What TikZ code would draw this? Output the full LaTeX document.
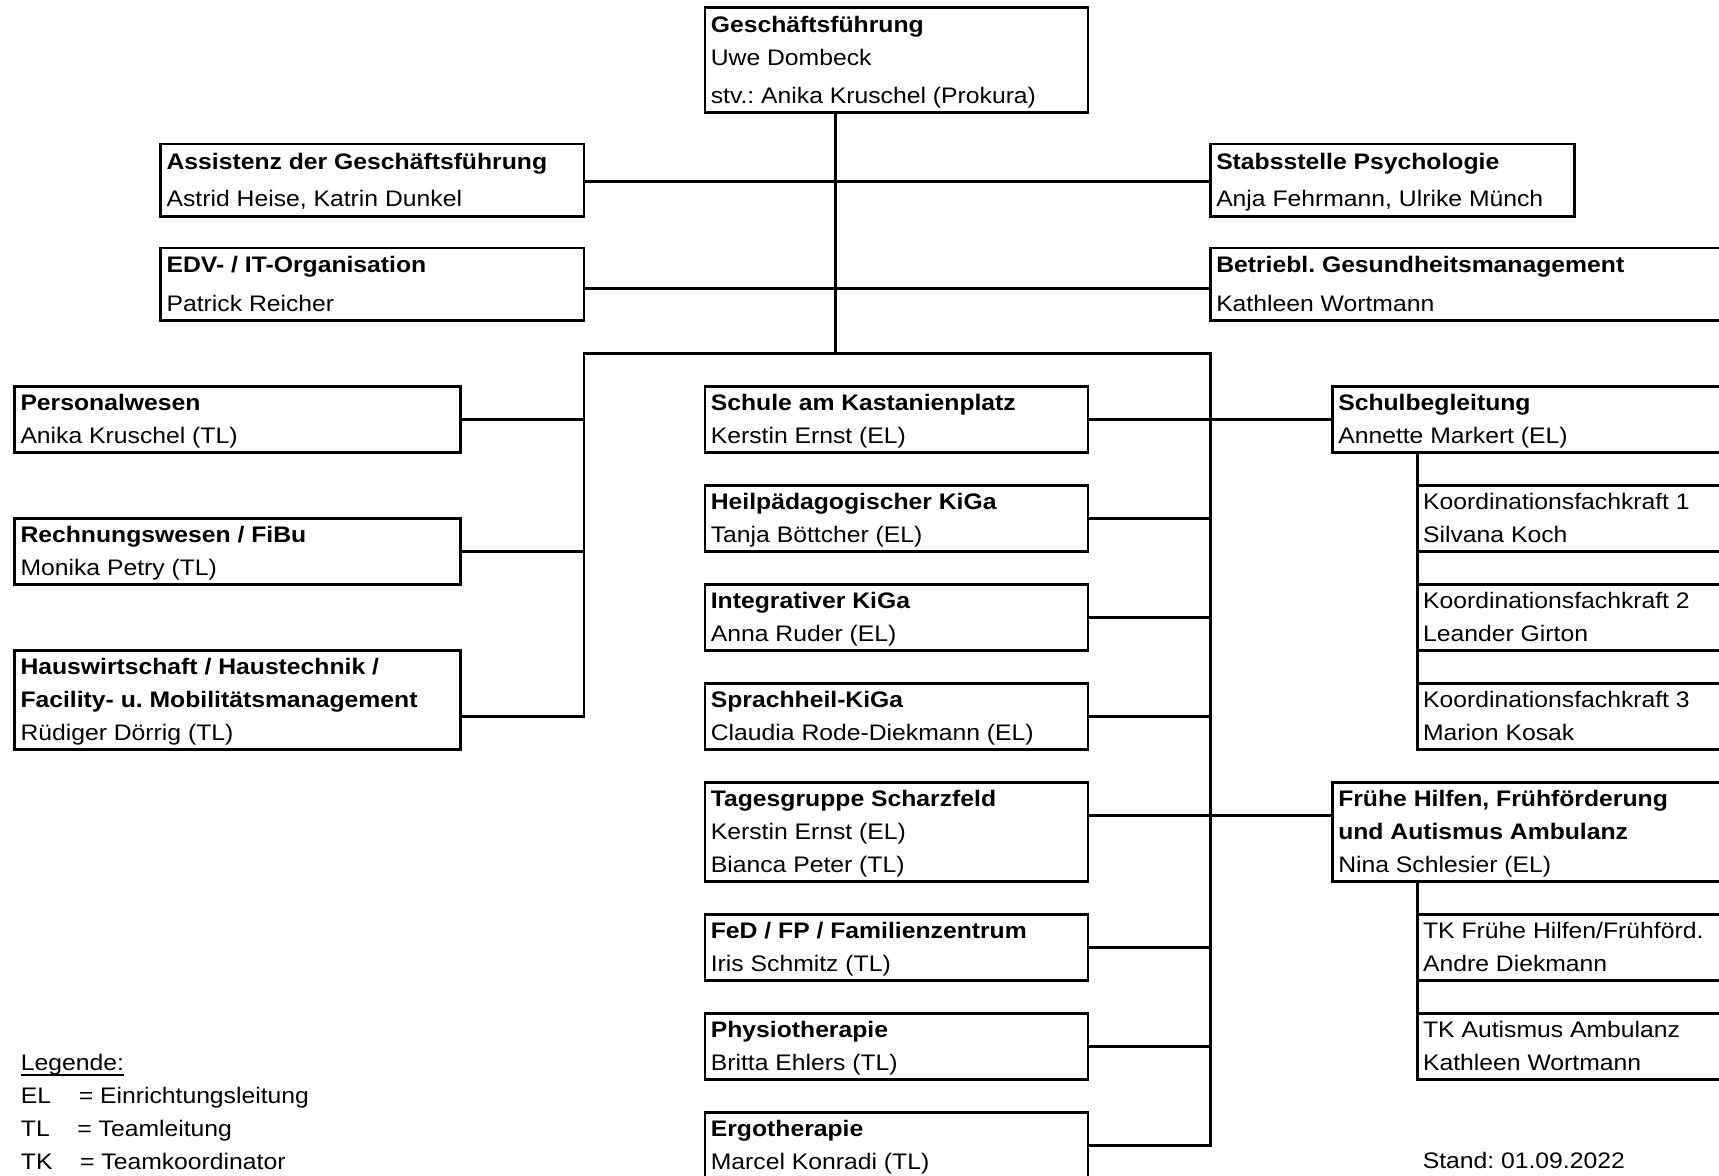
\documentclass[tikz,border=0pt]{standalone}
\usepackage{fontspec}
\setmainfont{Liberation Sans}[FakeStretch=1.10]
\usetikzlibrary{calc}
\newlength\U \setlength\U{0.55pt}
\newlength\tw
% one text line with a fixed strut: height, depth, text
\newcommand\Ln[3]{\hbox to \tw{\vrule width 0pt height #1\U depth #2\U\relax #3\hfil}}
\newcommand\rw[1]{\Ln{22.1}{8}{#1}}
\newcommand\rb[1]{\Ln{22.1}{8}{\bfseries #1}}
\newcommand\obox[6]{\setlength\tw{#4\U}\addtolength\tw{-10.8\U}%
  \node[obox,minimum height={#5\U}] (#1) at (#2,#3) {\vbox{\offinterlineskip #6}};}
\begin{document}
\begin{tikzpicture}[x=0.55pt,y=-0.55pt,
  obox/.style={draw,line width=2.4\U,rectangle,anchor=north west,inner xsep=5.4\U,inner ysep=0pt,
    outer sep=0pt,font=\fontsize{11.275pt}{13pt}\selectfont\frenchspacing},
  conn/.style={line width=2.4\U,line cap=rect},
  txt/.style={anchor=base west,inner sep=0pt,font=\fontsize{11.275pt}{13pt}\selectfont\frenchspacing}]
\useasboundingbox (0,0) rectangle (1568,1072);
\fill[white] (0,0) rectangle (1568,1072);
\clip (0,0) rectangle (1568,1072);

% top level
\obox{gf}{643}{6.7}{349.5}{95.8}{\Ln{22.5}{8}{\bfseries Geschäftsführung}\Ln{22.1}{8}{Uwe Dombeck}\Ln{27}{8.2}{stv.: Anika Kruschel (Prokura)}}
\obox{assist}{146.6}{131.3}{386}{66.3}{\Ln{23.4}{8}{\bfseries Assistenz der Geschäftsführung}\Ln{25.6}{9.3}{Astrid Heise, Katrin Dunkel}}
\obox{stabs}{1104}{131.3}{332}{66.3}{\Ln{23.4}{8}{\bfseries Stabsstelle Psychologie}\Ln{25.6}{9.3}{Anja Fehrmann, Ulrike Münch}}
\obox{edv}{146.6}{226.3}{386}{66.2}{\Ln{22.1}{8}{\bfseries EDV- / IT-Organisation}\Ln{28}{8.1}{Patrick Reicher}}
\obox{bgm}{1104}{226.3}{490}{66.2}{\Ln{22.1}{8}{\bfseries Betriebl. Gesundheitsmanagement}\Ln{28}{8.1}{Kathleen Wortmann}}

% left column
\obox{pers}{13.3}{352.7}{406.9}{60.2}{\rb{Personalwesen}\rw{Anika Kruschel (TL)}}
\obox{rech}{13.3}{473.1}{406.9}{60.2}{\rb{Rechnungswesen / FiBu}\rw{Monika Petry (TL)}}
\obox{haus}{13.3}{593.5}{406.9}{90.3}{\rb{Hauswirtschaft / Haustechnik /}\rb{Facility- u. Mobilitätsmanagement}\rw{Rüdiger Dörrig (TL)}}

% middle column
\obox{schule}{643}{352.7}{349.5}{60.2}{\rb{Schule am Kastanienplatz}\rw{Kerstin Ernst (EL)}}
\obox{heil}{643}{443.0}{349.5}{60.2}{\rb{Heilpädagogischer KiGa}\rw{Tanja Böttcher (EL)}}
\obox{integ}{643}{533.3}{349.5}{60.2}{\rb{Integrativer KiGa}\rw{Anna Ruder (EL)}}
\obox{sprach}{643}{623.6}{349.5}{60.2}{\rb{Sprachheil-KiGa}\rw{Claudia Rode-Diekmann (EL)}}
\obox{tages}{643}{713.9}{349.5}{90.3}{\rb{Tagesgruppe Scharzfeld}\rw{Kerstin Ernst (EL)}\rw{Bianca Peter (TL)}}
\obox{fed}{643}{834.3}{349.5}{60.2}{\rb{FeD / FP / Familienzentrum}\rw{Iris Schmitz (TL)}}
\obox{physio}{643}{924.6}{349.5}{60.2}{\rb{Physiotherapie}\rw{Britta Ehlers (TL)}}
\obox{ergo}{643}{1014.9}{349.5}{90.3}{\rb{Ergotherapie}\rw{Marcel Konradi (TL)}\rw{}}

% right column
\obox{schulb}{1215.3}{352.7}{380}{60.2}{\rb{Schulbegleitung}\rw{Annette Markert (EL)}}
\obox{k1}{1292.7}{443.0}{300}{60.2}{\rw{Koordinationsfachkraft 1}\rw{Silvana Koch}}
\obox{k2}{1292.7}{533.3}{300}{60.2}{\rw{Koordinationsfachkraft 2}\rw{Leander Girton}}
\obox{k3}{1292.7}{623.6}{300}{60.2}{\rw{Koordinationsfachkraft 3}\rw{Marion Kosak}}
\obox{fruehe}{1215.3}{713.9}{380}{90.3}{\rb{Frühe Hilfen, Frühförderung}\rb{und Autismus Ambulanz}\rw{Nina Schlesier (EL)}}
\obox{tk1}{1292.7}{834.3}{300}{60.2}{\rw{TK Frühe Hilfen/Frühförd.}\rw{Andre Diekmann}}
\obox{tk2}{1292.7}{924.6}{300}{60.2}{\rw{TK Autismus Ambulanz}\rw{Kathleen Wortmann}}

% connectors
\coordinate (trunk) at (762,322.3);
\coordinate (lbus) at (532.6,322.3);
\coordinate (rbus) at (1104,322.3);
\coordinate (c1) at (0,165.7);
\coordinate (c2) at (0,263);
\draw[conn] (gf.south -| trunk) -- (trunk);
\draw[conn] (assist.east |- c1) -- (stabs.west |- c1);
\draw[conn] (edv.east |- c2) -- (bgm.west |- c2);
\draw[conn] (lbus) -- (rbus);
\draw[conn] (lbus) |- ($(haus.north east)+(0,60.2)$);
\draw[conn] (pers.east) -- (pers.east -| lbus);
\draw[conn] (rech.east) -- (rech.east -| lbus);
\draw[conn] (rbus) |- ($(ergo.north east)+(0,30.1)$);
\draw[conn] (schule.east) -- (schulb.west);
\draw[conn] (heil.east) -- (heil.east -| rbus);
\draw[conn] (integ.east) -- (integ.east -| rbus);
\draw[conn] (sprach.east) -- (sprach.east -| rbus);
\draw[conn] (fed.east) -- (fed.east -| rbus);
\draw[conn] (physio.east) -- (physio.east -| rbus);
\draw[conn] ($(tages.north east)+(0,30.1)$) -- ($(fruehe.north west)+(0,30.1)$);
\draw[conn] (schulb.south -| k1.west) -- (k3.south west);
\draw[conn] (fruehe.south -| tk1.west) -- (tk2.south west);

% legend
\node[txt] (leg) at (18.7,976.7) {Legende:};
\draw[line width=1.3\U] ($(leg.base west)+(0,4)$) -- ($(leg.base east)+(0,4)$);
\node[txt] (el) at (18.7,1006.8) {\makebox[52.8\U][l]{EL}= Einrichtungsleitung};
\node[txt] (tl) at (18.7,1036.9) {\makebox[51.5\U][l]{TL}= Teamleitung};
\node[txt] (tk) at (18.7,1067) {\makebox[54\U][l]{TK}= Teamkoordinator};
\node[txt] (stand) at (1297.4,1066) {Stand: 01.09.2022};
\end{tikzpicture}
\end{document}
